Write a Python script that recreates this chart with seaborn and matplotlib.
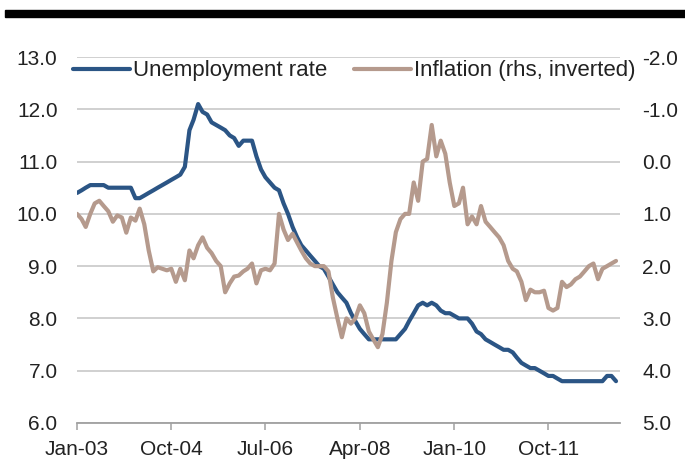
import pandas as pd
import seaborn as sns
import matplotlib.pyplot as plt
import matplotlib.dates as mdates
from matplotlib.patches import Rectangle

# Monthly data, Jan-03 .. Jan-13
START_MONTH = "2003-01-01"

unemployment = [
    10.4, 10.45, 10.5, 10.55, 10.55, 10.55, 10.55, 10.5, 10.5, 10.5, 10.5, 10.5,
    10.5, 10.3, 10.3, 10.35, 10.4, 10.45, 10.5, 10.55, 10.6, 10.65, 10.7, 10.75,
    10.9, 11.6, 11.8, 12.1, 11.95, 11.9, 11.75, 11.7, 11.65, 11.6, 11.5, 11.45,
    11.3, 11.4, 11.4, 11.4, 11.1, 10.85, 10.7, 10.6, 10.5, 10.45, 10.2, 10.0,
    9.75, 9.55, 9.4, 9.3, 9.2, 9.1, 9.0, 8.95, 8.8, 8.65, 8.5, 8.4,
    8.3, 8.1, 7.95, 7.8, 7.7, 7.6, 7.6, 7.6, 7.6, 7.6, 7.6, 7.6,
    7.7, 7.8, 7.95, 8.1, 8.25, 8.3, 8.25, 8.3, 8.25, 8.15, 8.1, 8.1,
    8.05, 8.0, 8.0, 8.0, 7.9, 7.75, 7.7, 7.6, 7.55, 7.5, 7.45, 7.4,
    7.4, 7.35, 7.25, 7.15, 7.1, 7.05, 7.05, 7.0, 6.95, 6.9, 6.9, 6.85,
    6.8, 6.8, 6.8, 6.8, 6.8, 6.8, 6.8, 6.8, 6.8, 6.8, 6.9, 6.9,
    6.8,
]

inflation = [
    1.0, 1.1, 1.25, 1.0, 0.8, 0.75, 0.85, 0.95, 1.15, 1.03, 1.07, 1.36,
    1.07, 1.13, 0.9, 1.2, 1.7, 2.1, 2.02, 2.05, 2.08, 2.05, 2.3, 2.05,
    2.27, 1.7, 1.85, 1.6, 1.45, 1.65, 1.75, 1.9, 2.0, 2.5, 2.33, 2.2,
    2.18, 2.1, 2.05, 1.95, 2.33, 2.08, 2.05, 2.08, 1.95, 1.0, 1.3, 1.5,
    1.38, 1.55, 1.7, 1.85, 1.95, 2.0, 2.0, 2.0, 2.1, 2.6, 3.0, 3.36,
    3.0, 3.1, 3.0, 2.75, 2.9, 3.25, 3.4, 3.55, 3.3, 2.7, 1.9, 1.35,
    1.1, 1.0, 1.0, 0.4, 0.75, 0.0, -0.05, -0.7, -0.1, -0.4, -0.15, 0.4,
    0.85, 0.8, 0.5, 1.2, 1.05, 1.2, 0.85, 1.15, 1.25, 1.35, 1.45, 1.6,
    1.9, 2.05, 2.1, 2.3, 2.65, 2.45, 2.5, 2.5, 2.47, 2.8, 2.85, 2.8,
    2.3, 2.4, 2.35, 2.25, 2.2, 2.1, 2.0, 1.95, 2.25, 2.05, 2.0, 1.95,
    1.9,
]

tick_labels = ["Jan-03", "Oct-04", "Jul-06", "Apr-08", "Jan-10", "Oct-11"]
left_ticks = [6.0, 7.0, 8.0, 9.0, 10.0, 11.0, 12.0, 13.0]
right_ticks = [-2.0, -1.0, 0.0, 1.0, 2.0, 3.0, 4.0, 5.0]

BLUE = "#2b5585"
BROWN = "#b59a8d"
TEXT = "#222222"
GRID = "#c4c4c4"


def build_frame():
    """
    Put both series in one frame with a monthly date index.
    """
    dates = pd.date_range(START_MONTH, periods=len(unemployment), freq="MS")
    return pd.DataFrame({"date": dates,
                         "unemployment": unemployment,
                         "inflation": inflation})


def draw(df):
    sns.set_theme(style="white")
    plt.rcParams["font.family"] = ["Liberation Sans", "DejaVu Sans"]
    plt.rcParams["axes.unicode_minus"] = False

    fig = plt.figure(figsize=(6.85, 4.75), dpi=100)
    ax = fig.add_axes([77 / 685, 1 - 423 / 475, 543 / 685, 366 / 475])
    ax2 = ax.twinx()

    # black rule across the top
    fig.patches.append(Rectangle((5 / 685, 1 - 17 / 475), 1, 7 / 475,
                                 transform=fig.transFigure, color="black"))

    sns.lineplot(data=df, x="date", y="unemployment", ax=ax, color=BLUE,
                 lw=3, label="Unemployment rate", legend=False)
    sns.lineplot(data=df, x="date", y="inflation", ax=ax2, color=BROWN,
                 lw=3, label="Inflation (rhs, inverted)", legend=False)

    # left axis
    ax.set_ylim(6, 13)
    ax.set_yticks(left_ticks)
    ax.set_yticklabels([f"{v:.1f}" for v in left_ticks])
    ax.yaxis.grid(True, color=GRID, lw=1.1)
    ax.set_axisbelow(True)
    ax.tick_params(axis="y", length=0, pad=14, labelsize=15, labelcolor=TEXT)

    # right axis, inverted
    ax2.set_ylim(5, -2)
    ax2.set_yticks(right_ticks)
    ax2.set_yticklabels([f"{v:.1f}" for v in right_ticks])
    ax2.tick_params(axis="y", length=0, pad=16, labelsize=15, labelcolor=TEXT)

    # x axis
    tick_dates = [pd.to_datetime(t, format="%b-%y") for t in tick_labels]
    ax.set_xlim(df["date"].iloc[0], pd.Timestamp("2013-01-28"))
    ax.set_xticks(tick_dates)
    ax.xaxis.set_major_formatter(mdates.DateFormatter("%b-%y"))
    ax.tick_params(axis="x", direction="out", length=5, width=1.1,
                   color="#a0a0a0", pad=7, labelsize=15, labelcolor=TEXT,
                   bottom=True)

    for a in (ax, ax2):
        a.set_xlabel("")
        a.set_ylabel("")
        for side in ("top", "left", "right", "bottom"):
            a.spines[side].set_visible(False)
    ax.spines["bottom"].set_visible(True)
    ax.spines["bottom"].set_color("#a0a0a0")
    ax.spines["bottom"].set_linewidth(1.3)

    handles = ax.get_lines()[:1] + ax2.get_lines()[:1]
    labels = ["Unemployment rate", "Inflation (rhs, inverted)"]
    leg = ax2.legend(handles, labels, ncol=2, frameon=False, loc="center left",
                     bbox_to_anchor=(-0.008, 0.962), borderpad=0,
                     borderaxespad=0, handlelength=2.6, handletextpad=0.1,
                     columnspacing=1.2, fontsize=16)
    for t in leg.get_texts():
        t.set_color(TEXT)

    fig.savefig("out.png", dpi=100)
    plt.close(fig)


def main():
    df = build_frame()
    draw(df)


if __name__ == "__main__":
    main()
